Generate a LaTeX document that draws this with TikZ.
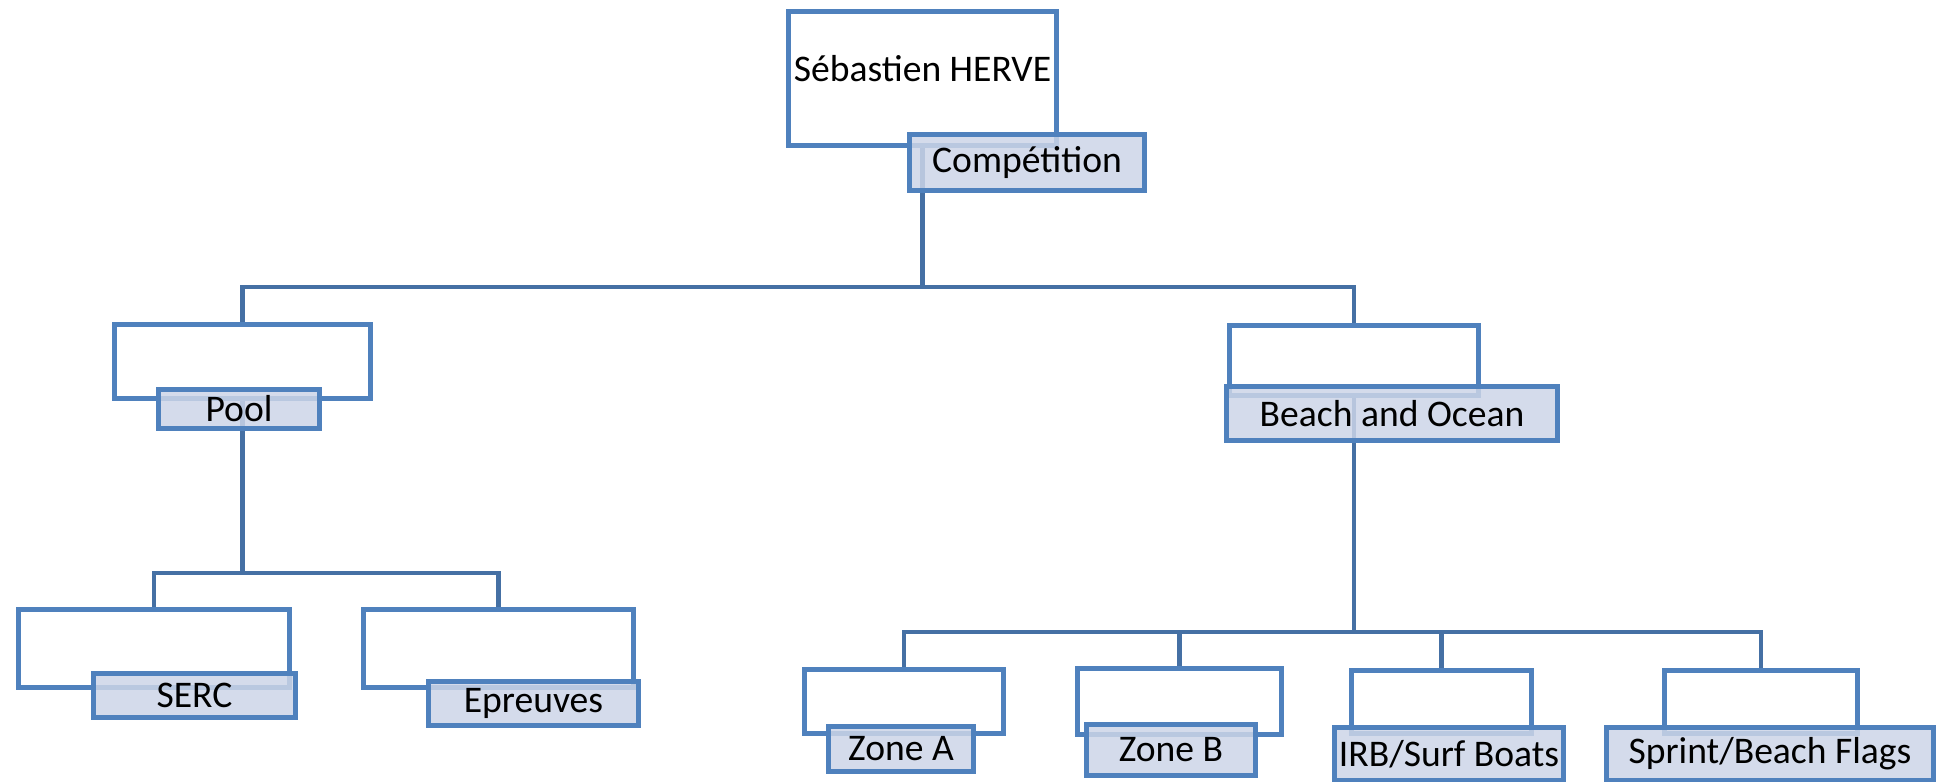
\documentclass[tikz,border=0pt]{standalone}
\usepackage{fontspec}
\setmainfont{Carlito}
\definecolor{bc}{RGB}{79, 129, 189}
\definecolor{lc}{RGB}{69, 112, 164}
\definecolor{fc}{RGB}{204, 213, 231}

\begin{document}
\begin{tikzpicture}[scale=0.5,
  wbox/.style={rectangle, draw=bc, line width=2.2pt, inner sep=0pt},
  lbox/.style={rectangle, draw=bc, line width=2.2pt, fill=fc, fill opacity=0.85, text opacity=1, inner sep=0pt, font=\fontsize{18.8}{22}\selectfont},
  link/.style={draw=lc, line width=2.2pt}]
\useasboundingbox (0pt, 0pt) rectangle (1942pt, -782pt);
\node (1) [wbox, minimum width=134pt, minimum height=67pt] at (922.5pt, -78.5pt) {};
\node (2) [wbox, minimum width=128pt, minimum height=37pt] at (242.5pt, -361.5pt) {};
\node (3) [wbox, minimum width=124.5pt, minimum height=35pt] at (1354pt, -360.5pt) {};
\node (4) [wbox, minimum width=135.5pt, minimum height=39pt] at (154pt, -648.5pt) {};
\node (5) [wbox, minimum width=135pt, minimum height=39pt] at (498.5pt, -648.5pt) {};
\node (6) [wbox, minimum width=99.5pt, minimum height=32pt] at (904pt, -701.5pt) {};
\node (7) [wbox, minimum width=102pt, minimum height=33pt] at (1179.5pt, -701.5pt) {};
\node (8) [wbox, minimum width=90pt, minimum height=31.5pt] at (1441.5pt, -702pt) {};
\node (9) [wbox, minimum width=96.5pt, minimum height=31.5pt] at (1761pt, -702pt) {};
\node (1t) [inner sep=0pt, font=\fontsize{18.8}{22}\selectfont] at (922.5pt, -68.5pt) {Sébastien HERVE};
\coordinate (b1) at (922.5pt, -287pt);
\coordinate (b2) at (242.5pt, -573pt);
\coordinate (b3) at (1354pt, -632pt);
\draw [link] (1.south) -- (b1) -| (2.north);
\draw [link] (b1) -| (3.north);
\draw [link] (2.south) -- (b2) -| (4.north);
\draw [link] (b2) -| (5.north);
\draw [link] (3.south) -- (b3) -| (6.north);
\draw [link] (b3) -| (7.north);
\draw [link] (b3) -| (8.north);
\draw [link] (b3) -| (9.north);
\node (1l) [lbox, minimum width=117.5pt, minimum height=28pt] at (1027pt, -162.5pt) {Compétition};
\node (2l) [lbox, minimum width=80.5pt, minimum height=19.5pt] at (239pt, -409pt) {Pool};
\node (3l) [lbox, minimum width=165.5pt, minimum height=27pt] at (1392pt, -413.5pt) {Beach and Ocean};
\node (4l) [lbox, minimum width=101pt, minimum height=22pt] at (194.5pt, -695.5pt) {SERC};
\node (5l) [lbox, minimum width=105pt, minimum height=22pt] at (533.5pt, -703.5pt) {Epreuves};
\node (6l) [lbox, minimum width=72.5pt, minimum height=22.5pt] at (901pt, -749pt) {Zone A};
\node (7l) [lbox, minimum width=84.5pt, minimum height=25.5pt] at (1171pt, -750pt) {Zone B};
\node (8l) [lbox, minimum width=114.5pt, minimum height=26.25pt] at (1449pt, -753.75pt) {IRB/Surf Boats};
\node (9l) [lbox, minimum width=163.5pt, minimum height=26.25pt] at (1770pt, -753.75pt) {Sprint/Beach Flags};
\end{tikzpicture}
\end{document}
